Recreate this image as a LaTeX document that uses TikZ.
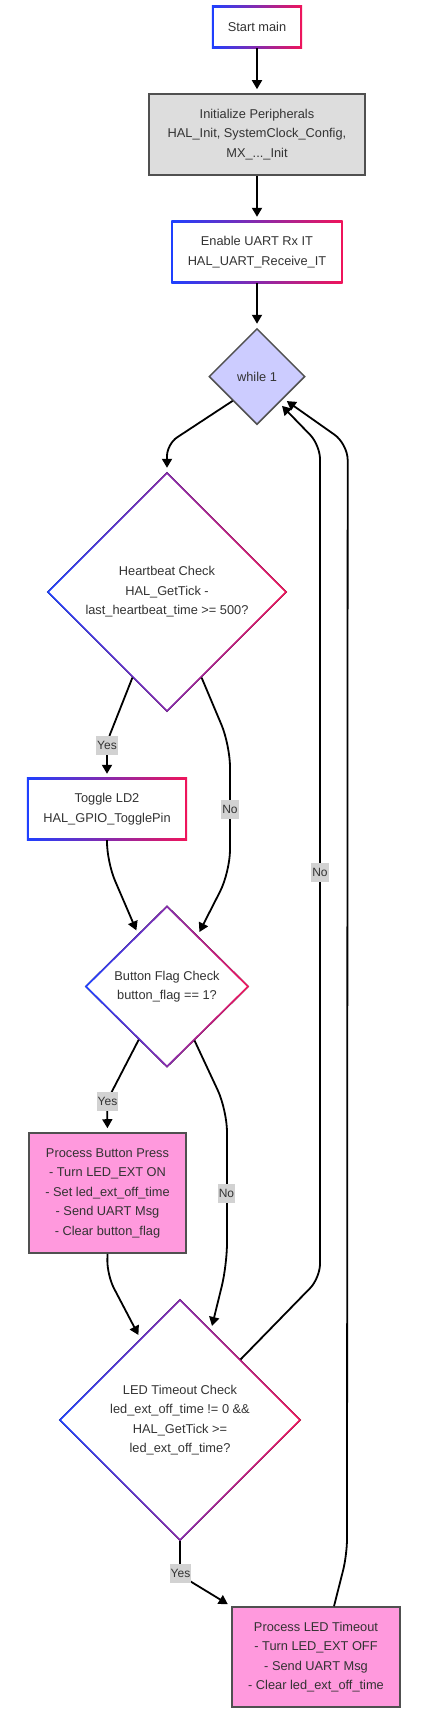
\documentclass[tikz,border=0pt]{standalone}
\usepackage{fontspec}
\setmainfont{Liberation Sans}
\usetikzlibrary{shapes.geometric,arrows.meta,backgrounds}
\definecolor{gblue}{RGB}{30,64,255}
\definecolor{gred}{RGB}{240,20,90}
\definecolor{txt}{RGB}{51,51,51}
\definecolor{bord}{RGB}{80,80,80}
\definecolor{initfill}{RGB}{221,221,221}
\definecolor{whilefill}{RGB}{204,204,255}
\definecolor{pinkfill}{RGB}{255,153,221}
\definecolor{lblfill}{RGB}{210,210,210}
\newcommand\gradRect[1]{%
  \fill[left color=gblue,right color=gred] (#1.south west) rectangle (#1.north east);
  \fill[white] ([xshift=1.8pt,yshift=1.8pt]#1.south west) rectangle ([xshift=-1.8pt,yshift=-1.8pt]#1.north east);}
\newcommand\gradDiam[1]{%
  \fill[left color=gblue,right color=gred] (#1.north) -- (#1.east) -- (#1.south) -- (#1.west) -- cycle;
  \fill[white] ([yshift=-2.6pt]#1.north) -- ([xshift=-2.6pt]#1.east) -- ([yshift=2.6pt]#1.south) -- ([xshift=2.6pt]#1.west) -- cycle;}
\begin{document}
\begin{tikzpicture}[x=1pt,y=-1pt,
  every node/.style={font=\fontsize{12.8}{19.5}\selectfont, text=txt, align=center},
  gbox/.style={rectangle, inner sep=0pt},
  gdiam/.style={diamond, aspect=1, inner sep=0pt},
  graybox/.style={rectangle, inner sep=0pt, draw=bord, line width=1.6pt, fill=#1},
  arr/.style={line width=1.8pt, -{Triangle[length=9pt,width=10pt]}, shorten >=4pt},
  lbl/.style={fill=lblfill, inner xsep=1pt, inner ysep=0pt, minimum height=19pt, font=\fontsize{12}{14}\selectfont}
]
\useasboundingbox (0,0) rectangle (423,1719);

\node[gbox, minimum width=90pt, minimum height=42pt] (start) at (257,27) {Start main};
\node[graybox=initfill, minimum width=216pt, minimum height=81pt] (init) at (257,134.5) {Initialize Peripherals\\HAL\_Init, SystemClock\_Config,\\MX\_...\_Init};
\node[gbox, minimum width=171pt, minimum height=62pt] (uart) at (257,252) {Enable UART Rx IT\\HAL\_UART\_Receive\_IT};
\node[diamond, aspect=1, inner sep=0pt, draw=bord, line width=1.5pt, fill=whilefill, minimum width=96pt, minimum height=96pt] (while) at (257,376.5) {while 1};
\node[gdiam, minimum width=240pt, minimum height=240pt] (hb) at (167,592) {Heartbeat Check\\HAL\_GetTick -\\last\_heartbeat\_time >= 500?};
\node[gbox, minimum width=160pt, minimum height=62pt] (toggle) at (107,809) {Toggle LD2\\HAL\_GPIO\_TogglePin};
\node[gdiam, minimum width=164pt, minimum height=162pt] (btn) at (167,986.5) {Button Flag Check\\button\_flag == 1?};
\node[graybox=pinkfill, minimum width=157pt, minimum height=120pt] (pbp) at (107.5,1193) {Process Button Press\\- Turn LED\_EXT ON\\- Set led\_ext\_off\_time\\- Send UART Msg\\- Clear button\_flag};
\node[gdiam, minimum width=242pt, minimum height=242pt] (led) at (180,1420) {LED Timeout Check\\led\_ext\_off\_time != 0 \&\&\\HAL\_GetTick >=\\led\_ext\_off\_time?};
\node[graybox=pinkfill, minimum width=168pt, minimum height=100pt] (plt) at (316,1657) {Process LED Timeout\\- Turn LED\_EXT OFF\\- Send UART Msg\\- Clear led\_ext\_off\_time};

\begin{scope}[on background layer]
\fill[white] (0,0) rectangle (423,1719);
\gradRect{start}
\gradRect{uart}
\gradRect{toggle}
\gradDiam{hb}
\gradDiam{btn}
\gradDiam{led}
\end{scope}

\draw[arr] (start) -- (init);
\draw[arr] (init) -- (uart);
\draw[arr] (uart) -- (while);
\draw[arr, rounded corners=12pt] (while.south west) -- (167,444) -- (hb.north);
\draw[arr, rounded corners=8pt] (hb.248.7) -- (107,742) -- (toggle.north);
\draw[arr, rounded corners=22pt] (hb.292.4) -- (230,745) -- (230,872) -- (btn.59.5);
\draw[arr, rounded corners=20pt] (toggle.south) -- (107,862) -- (btn.119.3);
\draw[arr, rounded corners=8pt] (btn.242.6) -- (107,1101) -- (pbp.north);
\draw[arr, rounded corners=22pt] (btn.297) -- (227,1110) -- (227,1265) -- (led.71.7);
\draw[arr, rounded corners=15pt] (pbp.south) -- (107,1275) -- (led.116.3);
\draw[arr, rounded corners=14pt] (led.north east) -- (320,1278) -- (320,445) -- (while.310.9);
\draw[arr, rounded corners=16pt] ([xshift=18pt]plt.north) -- (347,1555) -- (347.7,444) -- (while.320.5);
\draw[arr, rounded corners=5pt] (led.south) -- (180,1575) -- (plt.north west);

\node[lbl] (l1) at (107,745.5) {Yes};
\node[lbl] (l2) at (230,809) {No};
\node[lbl] (l3) at (320,872.5) {No};
\node[lbl] (l4) at (107.5,1101.5) {Yes};
\node[lbl] (l5) at (226.5,1193) {No};
\node[lbl] (l6) at (180.5,1573.5) {Yes};
\end{tikzpicture}
\end{document}
